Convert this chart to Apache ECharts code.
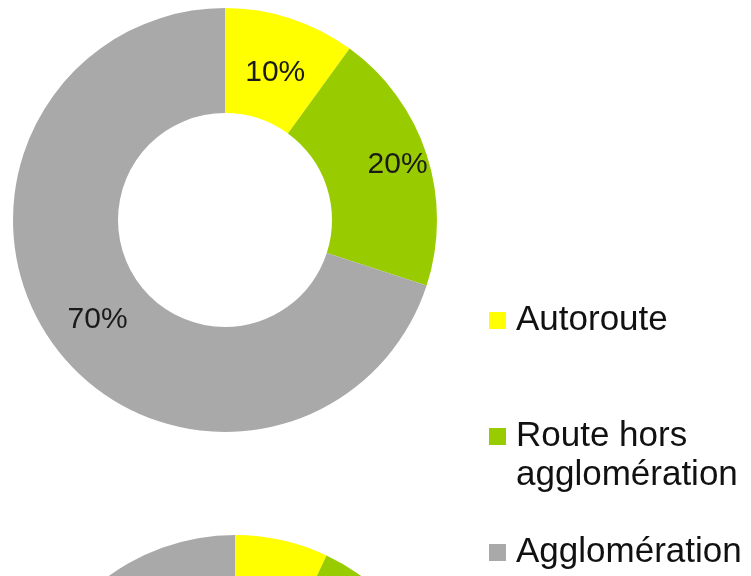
<!DOCTYPE html>
<html>
<head>
<meta charset="utf-8">
<script src="https://cdn.jsdelivr.net/npm/echarts@6/dist/echarts.min.js"></script>
<style>
html,body{margin:0;padding:0;background:#fff;}
#c{width:751px;height:576px;}
</style>
</head>
<body>
<div id="c"></div>
<script>
const categories = ['Autoroute', 'Route hors\nagglomération', 'Agglomération'];
const colors = ['#FFFF00', '#99CC00', '#A9A9A9'];
const valuesTop = [10, 20, 70];
const valuesBottom = [7, 21, 72];

const FONT = '"Liberation Sans", Arial, sans-serif';
// small label nudges (style only) to mimic the original label placement
const labelNudges = [[0, 7], [18, -5], [4, 4]];

function makeData(vals, nudge) {
  return categories.map((name, i) => {
    const d = {
      name: name,
      value: vals[i],
      itemStyle: { color: colors[i] }
    };
    if (nudge) d.label = { offset: nudge[i] };
    return d;
  });
}

const pieBase = {
  type: 'pie',
  startAngle: 90,
  clockwise: true,
  label: {
    show: true,
    position: 'inside',
    formatter: '{c}%',
    fontFamily: FONT,
    fontSize: 30,
    color: '#1a1a1a'
  },
  labelLine: { show: false },
  emphasis: { disabled: true }
};

const chart = echarts.init(document.getElementById('c'), null, { renderer: 'canvas' });
chart.setOption({
  animation: false,
  backgroundColor: '#ffffff',
  legend: {
    orient: 'vertical',
    left: 484,
    top: 296,
    height: 400,
    itemWidth: 17,
    itemHeight: 17,
    itemGap: 38,
    icon: 'rect',
    selectedMode: false,
    formatter: function (name) {
      return name.indexOf('\n') >= 0 ? '\n' + name : name;
    },
    textStyle: {
      fontFamily: FONT,
      fontSize: 35,
      color: '#111',
      lineHeight: 39,
      padding: [0, 0, 0, 5]
    },
    data: categories
  },
  series: [
    Object.assign({}, pieBase, {
      center: [225, 220],
      radius: [107, 212],
      data: makeData(valuesTop, labelNudges)
    }),
    Object.assign({}, pieBase, {
      center: [235, 750],
      radius: [107, 215],
      data: makeData(valuesBottom)
    })
  ]
});
</script>
</body>
</html>
